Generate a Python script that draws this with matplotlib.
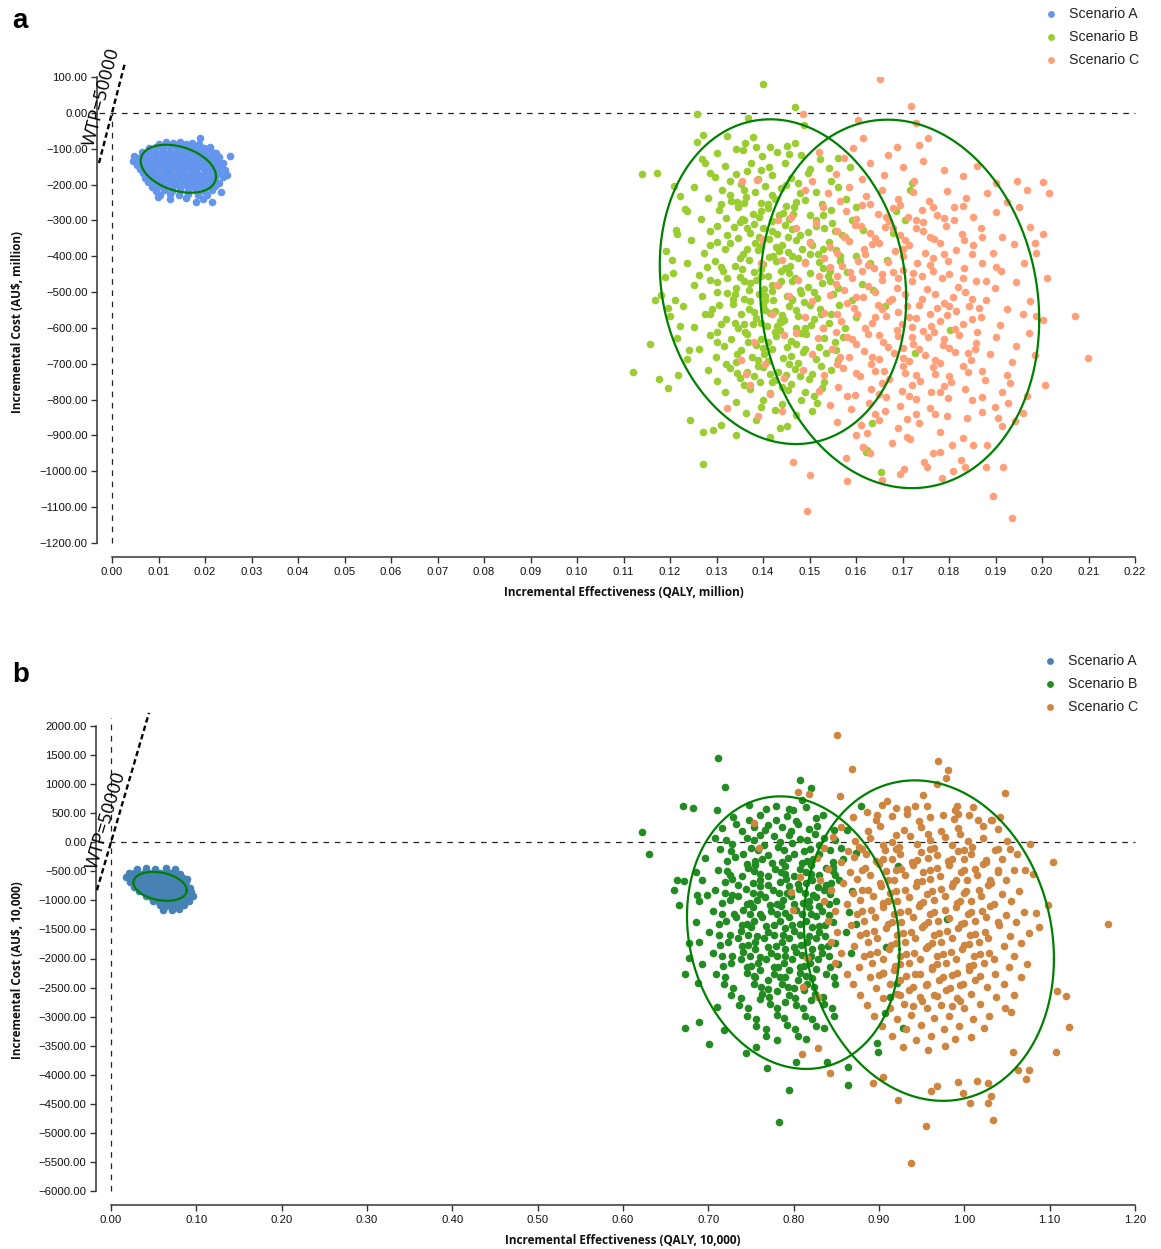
import numpy as np
import matplotlib
matplotlib.use("Agg")
import matplotlib.pyplot as plt

# ---------------- data: panel a (QALY million, AU$ million) ----------------
scenarios = ["Scenario A", "Scenario B", "Scenario C"]
a_colors = ["#6495ED", "#9ACD32", "#FFA07A"]
b_colors = ["#4682B4", "#228B22", "#CD853F"]

a_A = [(0.0189,-70),
 (0.0102,-86),(0.0117,-82),(0.0131,-85),(0.0146,-81),(0.0159,-86),(0.0173,-83),(0.0187,-88),
 (0.0079,-97),(0.0094,-94),(0.0109,-98),(0.0124,-95),(0.0139,-97),(0.0153,-94),(0.0168,-98),(0.0183,-95),(0.0198,-99),(0.0211,-96),
 (0.0065,-109),(0.0080,-106),(0.0095,-110),(0.0110,-107),(0.0125,-109),(0.0140,-106),(0.0155,-110),(0.0170,-107),(0.0185,-109),(0.0200,-106),(0.0215,-110),(0.0224,-113),
 (0.0254,-119),(0.0048,-121),(0.0058,-127),(0.0072,-119),(0.0087,-122),(0.0102,-119),(0.0117,-122),(0.0132,-119),(0.0147,-122),(0.0162,-119),(0.0177,-122),(0.0192,-119),(0.0207,-122),(0.0220,-119),(0.0231,-124),
 (0.0046,-133),(0.0064,-131),(0.0079,-134),(0.0094,-131),(0.0109,-134),(0.0124,-131),(0.0139,-134),(0.0154,-131),(0.0169,-134),(0.0184,-131),(0.0199,-134),(0.0214,-131),(0.0228,-134),(0.0238,-139),
 (0.0054,-145),(0.0069,-143),(0.0085,-146),(0.0100,-143),(0.0115,-146),(0.0130,-143),(0.0145,-146),(0.0160,-143),(0.0175,-146),(0.0190,-143),(0.0205,-146),(0.0220,-143),(0.0235,-147),
 (0.0060,-157),(0.0075,-155),(0.0090,-158),(0.0105,-155),(0.0120,-158),(0.0135,-155),(0.0150,-158),(0.0165,-155),(0.0180,-158),(0.0195,-155),(0.0210,-158),(0.0225,-155),(0.0242,-159),
 (0.0066,-169),(0.0081,-167),(0.0096,-170),(0.0111,-167),(0.0126,-170),(0.0141,-167),(0.0156,-170),(0.0171,-167),(0.0186,-170),(0.0201,-167),(0.0216,-170),(0.0231,-167),(0.0247,-172),
 (0.0071,-182),(0.0086,-179),(0.0101,-182),(0.0116,-179),(0.0131,-182),(0.0146,-179),(0.0161,-182),(0.0176,-179),(0.0191,-182),(0.0206,-179),(0.0221,-182),(0.0238,-180),
 (0.0078,-194),(0.0093,-191),(0.0108,-194),(0.0123,-191),(0.0138,-194),(0.0153,-191),(0.0168,-194),(0.0183,-191),(0.0198,-194),(0.0213,-191),(0.0230,-195),
 (0.0086,-206),(0.0101,-203),(0.0116,-206),(0.0131,-203),(0.0146,-206),(0.0161,-203),(0.0176,-206),(0.0191,-203),(0.0206,-206),(0.0222,-204),
 (0.0095,-218),(0.0112,-215),(0.0129,-218),(0.0146,-216),(0.0163,-219),(0.0180,-215),(0.0197,-218),(0.0214,-216),(0.0234,-221),
 (0.0104,-229),(0.0124,-227),(0.0144,-230),(0.0164,-227),(0.0184,-230),(0.0204,-228),
 (0.0099,-236),(0.0125,-241),(0.0160,-238),(0.0195,-240),(0.0180,-248),(0.0214,-250)]

a_B = [(0.1401,81),(0.1469,16),(0.1257,-3),(0.1368,-15),(0.1488,-33),(0.1139,-170),(0.1173,-168),(0.1120,-724),
 (0.1157,-645),(0.1168,-522),(0.1177,-743),(0.1196,-768),(0.1218,-731),(0.1243,-856),(0.1270,-980),(0.1272,-889),
 (0.1293,-884),(0.1309,-870),(0.1343,-898),(0.1415,-903),(0.1437,-880),(0.1451,-875),(0.1623,-940),(0.1654,-1001),
 (0.1634,-866),(0.1621,-945),(0.1209,-204),(0.1222,-233),(0.1257,-80),(0.1272,-61),(0.1323,-64),(0.1379,-66),
 (0.1343,-101),(0.1361,-85),(0.1415,-94),(0.1451,-92),(0.1469,-83),(0.1275,-140),(0.1286,-168),(0.1562,-126),
 (0.1587,-150),(0.1541,-154),(0.1720,-196),(0.1716,-215),(0.1705,-299),(0.1687,-275),(0.1727,-670),(0.1802,-605),
 (0.1662,-540),(0.1636,-494),(0.1666,-410),(0.1680,-336),(0.1204,-410),(0.1189,-457),(0.1211,-522),(0.1222,-596),
 (0.1240,-661),(0.1216,-338),(0.1237,-275),(0.1196,-545),
 (0.1302,-112),(0.1356,-104),(0.1398,-121),(0.1431,-108),(0.1482,-118),(0.1523,-130),(0.1319,-148),(0.1374,-139),
 (0.1412,-152),(0.1447,-141),(0.1502,-156),(0.1268,-128),(0.1385,-96),(0.1455,-114),
 (0.1296,-178),(0.1341,-170),(0.1389,-185),(0.1420,-172),(0.1461,-181),(0.1497,-168),(0.1546,-189),(0.1252,-206),
 (0.1311,-214),(0.1353,-199),(0.1382,-222),(0.1404,-203),(0.1438,-211),(0.1476,-196),(0.1513,-220),(0.1561,-207),
 (0.1330,-228),(0.1365,-163),
 (0.1281,-238),(0.1331,-246),(0.1363,-236),(0.1396,-251),(0.1426,-240),(0.1449,-259),(0.1491,-244),(0.1527,-255),
 (0.1579,-240),(0.1232,-268),(0.1306,-272),(0.1346,-262),(0.1379,-281),(0.1411,-266),(0.1443,-279),(0.1466,-263),
 (0.1501,-285),(0.1546,-270),(0.1601,-262),(0.1267,-296),(0.1321,-292),(0.1359,-300),(0.1392,-290),(0.1420,-301),
 (0.1456,-295),(0.1514,-299),(0.1360,-252),(0.1434,-286),
 (0.1549,-308),(0.1591,-300),(0.1213,-326),(0.1286,-330),(0.1337,-318),(0.1371,-336),(0.1401,-322),(0.1431,-339),
 (0.1463,-325),(0.1496,-333),(0.1531,-320),(0.1569,-342),(0.1616,-328),(0.1246,-356),(0.1301,-361),(0.1346,-350),
 (0.1383,-364),(0.1413,-352),(0.1441,-368),(0.1471,-355),(0.1506,-370),(0.1541,-359),(0.1576,-347),(0.1191,-386),
 (0.1273,-391),(0.1319,-380),(0.1356,-395),(0.1389,-384),(0.1421,-399),(0.1453,-388),(0.1483,-379),(0.1519,-393),
 (0.1556,-382),(0.1601,-398),(0.1366,-322),(0.1392,-346),(0.1427,-374),(0.1462,-398),(0.1329,-364),
 (0.1236,-418),(0.1296,-412),(0.1339,-426),(0.1369,-410),(0.1399,-421),(0.1429,-413),(0.1459,-428),(0.1491,-417),
 (0.1529,-432),(0.1566,-414),(0.1631,-420),(0.1206,-446),(0.1263,-452),(0.1313,-441),(0.1351,-458),(0.1381,-444),
 (0.1411,-455),(0.1439,-440),(0.1469,-462),(0.1501,-448),(0.1539,-456),(0.1581,-443),(0.1251,-480),(0.1301,-472),
 (0.1341,-488),(0.1373,-476),(0.1403,-491),(0.1433,-479),(0.1463,-470),(0.1496,-485),(0.1526,-474),(0.1561,-490),
 (0.1613,-478),(0.1355,-436),(0.1386,-466),(0.1419,-496),(0.1448,-432),(0.1322,-460),
 (0.1181,-508),(0.1269,-512),(0.1323,-503),(0.1359,-518),(0.1391,-506),(0.1421,-521),(0.1451,-510),(0.1481,-502),
 (0.1516,-517),(0.1551,-505),(0.1591,-522),(0.1229,-538),(0.1291,-546),(0.1336,-532),(0.1369,-548),(0.1399,-536),
 (0.1426,-552),(0.1456,-540),(0.1489,-529),(0.1523,-547),(0.1563,-535),(0.1201,-568),(0.1276,-562),(0.1321,-575),
 (0.1353,-560),(0.1386,-571),(0.1416,-558),(0.1446,-579),(0.1476,-566),(0.1509,-574),(0.1546,-561),(0.1599,-570),
 (0.1251,-598),(0.1309,-590),(0.1346,-601),(0.1379,-588),(0.1409,-596),(0.1439,-584),(0.1471,-599),(0.1503,-591),
 (0.1541,-586),(0.1576,-600),(0.1372,-526),(0.1405,-551),(0.1436,-582),(0.1463,-523),(0.1339,-585),
 (0.1216,-628),(0.1286,-620),(0.1331,-632),(0.1366,-618),(0.1396,-631),(0.1429,-622),(0.1461,-636),(0.1493,-617),
 (0.1531,-629),(0.1571,-624),(0.1263,-658),(0.1316,-650),(0.1353,-662),(0.1386,-648),(0.1419,-660),(0.1451,-652),
 (0.1486,-666),(0.1521,-654),(0.1556,-661),(0.1236,-688),(0.1299,-682),(0.1341,-694),(0.1376,-680),(0.1411,-692),
 (0.1443,-684),(0.1476,-697),(0.1513,-686),(0.1561,-690),(0.1368,-640),(0.1402,-672),(0.1437,-606),
 (0.1281,-718),(0.1329,-712),(0.1366,-724),(0.1401,-710),(0.1433,-722),(0.1469,-714),(0.1506,-728),(0.1546,-716),
 (0.1301,-748),(0.1351,-740),(0.1393,-752),(0.1426,-744),(0.1461,-756),(0.1499,-742),(0.1531,-750),(0.1319,-778),
 (0.1373,-770),(0.1416,-782),(0.1453,-772),(0.1491,-780),(0.1526,-768),(0.1341,-808),(0.1399,-800),(0.1441,-812),
 (0.1481,-802),(0.1516,-810),(0.1363,-838),(0.1426,-830),(0.1471,-842),(0.1506,-832),(0.1386,-858),
 (0.1345,-250),(0.1410,-255),(0.1472,-248),(0.1380,-310),(0.1447,-312),(0.1515,-315),(0.1322,-340),(0.1453,-345),
 (0.1395,-372),(0.1350,-405),(0.1412,-402),(0.1475,-405),(0.1438,-468),(0.1370,-495),(0.1510,-500),(0.1335,-520),
 (0.1405,-522),(0.1470,-550),(0.1395,-585),(0.1430,-595),(0.1362,-610),(0.1482,-615),(0.1410,-640),(0.1345,-672),
 (0.1460,-678),(0.1390,-705),(0.1450,-730),(0.1380,-735),(0.1310,-430),(0.1545,-440),(0.1285,-560),(0.1530,-600),
 (0.1355,-295),(0.1500,-360),(0.1395,-455),(0.1462,-520),(0.1530,-380),(0.1300,-500),(0.1420,-750),(0.1490,-660),
 (0.1330,-190),(0.1395,-160),(0.1450,-200),(0.1360,-215),(0.1420,-230),(0.1480,-225),(0.1310,-255),(0.1395,-275),
 (0.1465,-282),(0.1530,-285),(0.1300,-315),(0.1350,-305),(0.1420,-330),(0.1480,-340),(0.1555,-330),(0.1285,-370),
 (0.1365,-380),(0.1435,-385),(0.1500,-395),(0.1565,-400),(0.1280,-430),(0.1395,-435),(0.1455,-448),(0.1520,-415),
 (0.1285,-465),(0.1360,-470),(0.1420,-480),(0.1480,-495),(0.1545,-470),(0.1340,-505),(0.1405,-510),(0.1500,-535),
 (0.1305,-535),(0.1380,-555),(0.1440,-565),(0.1525,-560),(0.1300,-610),(0.1360,-590),(0.1425,-610),(0.1490,-600),
 (0.1555,-640),(0.1300,-640),(0.1400,-655),(0.1470,-645),(0.1535,-670),(0.1320,-700),(0.1390,-690),(0.1455,-700),
 (0.1525,-705),(0.1345,-725),(0.1415,-728),(0.1480,-735),(0.1360,-760),(0.1440,-765),(0.1510,-790),(0.1395,-820)]

a_C = [(0.1652,95),(0.1718,20),(0.1486,-3),(0.1604,-20),(0.1616,-71),(0.1594,-98),(0.1729,-29),(0.1754,-69),
 (0.1735,-89),(0.1946,-191),(0.1967,-215),(0.2003,-193),(0.2014,-224),(0.1985,-364),(0.2003,-338),(0.2007,-759),
 (0.1987,-568),(0.2003,-577),(0.1971,-615),(0.2071,-567),(0.2099,-684),(0.1960,-838),(0.1943,-861),(0.1895,-1070),
 (0.1936,-1131),(0.1917,-987),(0.1879,-987),(0.1494,-1110),(0.1501,-1010),(0.1464,-975),(0.1580,-1026),(0.1616,-933),
 (0.1578,-963),(0.1655,-1024),(0.1322,-824),(0.1363,-728),(0.1390,-847),(0.1440,-833),(0.1784,-1019),(0.1809,-998),
 (0.1834,-989),(0.1753,-987),(0.1746,-973),(0.1766,-950),(0.1781,-945),(0.1825,-968),(0.1806,-927),(0.1831,-908),
 (0.1852,-927),(0.1695,-1007),(0.1704,-993),(0.1717,-911),(0.1677,-920),(0.1630,-948),(0.1616,-931),(0.1624,-894),
 (0.1913,-875),(0.1881,-927),(0.1838,-852),(0.1870,-834),(0.1899,-820),(0.1927,-810),(0.1931,-755),
 (0.1395,-420),(0.1420,-560),(0.1380,-640),(0.1405,-700),(0.1430,-480),(0.1372,-760),(0.1415,-785),(0.1445,-740),
 (0.1352,-690),(0.1398,-352),(0.1432,-300),(0.1445,-620),(0.1354,-191),(0.1387,-187),
 (0.1520,-110),(0.1575,-125),(0.1630,-140),(0.1668,-118),(0.1702,-150),(0.1745,-135),(0.1790,-160),(0.1830,-175),
 (0.1558,-170),(0.1612,-185),(0.1660,-172),(0.1725,-190),(0.1860,-148),(0.1900,-195),(0.1505,-190),(0.1688,-95),
 (0.1490,-215),(0.1540,-225),(0.1585,-208),(0.1622,-232),(0.1655,-215),(0.1690,-240),(0.1722,-222),(0.1758,-246),
 (0.1795,-218),(0.1836,-238),(0.1882,-225),(0.1925,-250),(0.1530,-262),(0.1578,-275),(0.1612,-258),(0.1648,-281),
 (0.1680,-265),(0.1712,-290),(0.1741,-270),(0.1775,-284),(0.1810,-262),(0.1851,-291),(0.1900,-276),(0.1950,-262),
 (0.1460,-290),
 (0.1470,-322),(0.1515,-308),(0.1560,-330),(0.1598,-312),(0.1630,-335),(0.1662,-318),(0.1695,-340),(0.1728,-322),
 (0.1760,-345),(0.1793,-316),(0.1828,-338),(0.1868,-322),(0.1915,-346),(0.1975,-318),(0.1500,-362),(0.1545,-375),
 (0.1585,-358),(0.1618,-380),(0.1650,-364),(0.1683,-386),(0.1715,-368),(0.1748,-390),(0.1781,-362),(0.1815,-384),
 (0.1852,-370),(0.1895,-392),(0.1940,-366),(0.1988,-390),(0.1672,-302),(0.1745,-305),
 (0.1440,-410),(0.1490,-420),(0.1532,-405),(0.1570,-428),(0.1605,-412),(0.1638,-432),(0.1668,-415),(0.1700,-438),
 (0.1732,-418),(0.1765,-440),(0.1798,-412),(0.1832,-434),(0.1870,-418),(0.1912,-442),(0.1962,-420),(0.1475,-465),
 (0.1520,-455),(0.1558,-478),(0.1592,-460),(0.1625,-482),(0.1655,-466),(0.1688,-488),(0.1720,-470),(0.1752,-492),
 (0.1785,-462),(0.1820,-485),(0.1858,-468),(0.1898,-490),(0.1945,-472),(0.2010,-460),(0.1612,-440),(0.1742,-455),
 (0.1680,-445),
 (0.1455,-512),(0.1505,-525),(0.1545,-508),(0.1580,-530),(0.1615,-515),(0.1648,-535),(0.1678,-518),(0.1710,-540),
 (0.1742,-520),(0.1775,-545),(0.1808,-515),(0.1842,-538),(0.1880,-522),(0.1925,-546),(0.1975,-525),(0.1490,-570),
 (0.1532,-558),(0.1568,-580),(0.1602,-562),(0.1635,-585),(0.1665,-568),(0.1698,-590),(0.1730,-572),(0.1762,-595),
 (0.1795,-565),(0.1830,-588),(0.1868,-570),(0.1910,-592),(0.1960,-560),(0.1655,-548),(0.1720,-598),(0.1790,-530),
 (0.1470,-615),(0.1518,-628),(0.1558,-610),(0.1592,-632),(0.1625,-618),(0.1658,-640),(0.1690,-622),(0.1722,-645),
 (0.1755,-625),(0.1788,-648),(0.1822,-620),(0.1858,-642),(0.1900,-626),(0.1945,-650),(0.1505,-672),(0.1548,-660),
 (0.1585,-682),(0.1618,-665),(0.1650,-688),(0.1682,-670),(0.1715,-692),(0.1748,-675),(0.1780,-698),(0.1812,-668),
 (0.1848,-690),(0.1888,-672),(0.1935,-695),(0.1985,-675),(0.1700,-655),(0.1768,-610),
 (0.1485,-718),(0.1532,-730),(0.1572,-712),(0.1608,-735),(0.1640,-720),(0.1672,-742),(0.1705,-725),(0.1738,-748),
 (0.1770,-728),(0.1805,-750),(0.1840,-722),(0.1878,-745),(0.1925,-730),(0.1520,-775),(0.1562,-765),(0.1598,-788),
 (0.1632,-770),(0.1665,-792),(0.1698,-775),(0.1730,-798),(0.1762,-778),(0.1798,-795),(0.1835,-770),(0.1872,-792),
 (0.1915,-778),(0.1968,-790),
 (0.1545,-815),(0.1590,-825),(0.1628,-810),(0.1662,-832),(0.1695,-818),(0.1728,-840),(0.1760,-822),(0.1795,-845),
 (0.1560,-862),(0.1610,-870),(0.1650,-858),(0.1690,-880),(0.1735,-865),(0.1780,-890),(0.1905,-850),(0.1600,-900),
 (0.1710,-905),
 (0.1600,-295),(0.1665,-290),(0.1730,-300),(0.1790,-292),(0.1575,-345),(0.1640,-350),(0.1705,-355),(0.1768,-352),
 (0.1832,-355),(0.1620,-395),(0.1700,-400),(0.1765,-405),(0.1588,-445),(0.1655,-450),(0.1722,-448),(0.1800,-450),
 (0.1575,-495),(0.1640,-500),(0.1705,-505),(0.1770,-505),(0.1835,-500),(0.1595,-545),(0.1690,-555),(0.1760,-560),
 (0.1815,-552),(0.1620,-600),(0.1688,-605),(0.1745,-608),(0.1812,-604),(0.1600,-645),(0.1668,-652),(0.1735,-660),
 (0.1800,-655),(0.1632,-700),(0.1700,-705),(0.1765,-710),(0.1830,-705),(0.1655,-755),(0.1720,-760),(0.1790,-762),
 (0.1560,-700),(0.1530,-600),(0.1860,-610),(0.1850,-520),(0.1545,-430),(0.1880,-470),
 (0.1565,-245),(0.1630,-255),(0.1695,-258),(0.1765,-262),(0.1830,-260),(0.1610,-315),(0.1680,-322),(0.1745,-330),
 (0.1810,-300),(0.1870,-345),(0.1560,-390),(0.1635,-365),(0.1700,-380),(0.1790,-395),(0.1850,-395),(0.1560,-455),
 (0.1625,-425),(0.1690,-460),(0.1760,-425),(0.1830,-460),(0.1900,-430),(0.1600,-515),(0.1670,-525),(0.1735,-535),
 (0.1800,-540),(0.1865,-545),(0.1560,-560),(0.1640,-570),(0.1715,-570),(0.1780,-580),(0.1850,-575),(0.1580,-625),
 (0.1650,-620),(0.1720,-625),(0.1790,-630),(0.1855,-660),(0.1565,-680),(0.1635,-680),(0.1700,-685),(0.1770,-690),
 (0.1840,-670),(0.1600,-725),(0.1660,-720),(0.1730,-730),(0.1800,-735),(0.1870,-720),(0.1580,-790),(0.1650,-785),
 (0.1715,-790),(0.1780,-780),(0.1850,-800),(0.1640,-840),(0.1710,-855),(0.1770,-840)]

# confidence ellipses: centre x, centre y, half-width, half-height, phase (deg)
a_ellipses = [(0.01427, -156, 0.0081, 67, 109),
              (0.1443, -471, 0.0265, 453, 96),
              (0.1694, -533, 0.0300, 514, 95)]

# ---------------- data: panel b (QALY 10,000, AU$ 10,000) ----------------
b_A = [(0.031,-462),(0.041,-448),(0.052,-458),(0.064,-446),(0.075,-460),
 (0.021,-535),(0.027,-522),(0.033,-538),(0.039,-526),(0.045,-532),(0.051,-520),(0.057,-536),(0.063,-524),(0.069,-534),(0.075,-522),(0.081,-538),
 (0.018,-596),(0.024,-612),(0.030,-602),(0.036,-616),(0.042,-604),(0.048,-614),(0.054,-600),(0.060,-612),(0.066,-604),(0.072,-618),(0.078,-606),(0.084,-614),(0.089,-628),
 (0.022,-690),(0.028,-682),(0.034,-696),(0.040,-684),(0.046,-698),(0.052,-686),(0.058,-694),(0.064,-682),(0.070,-696),(0.076,-686),(0.082,-698),(0.088,-688),
 (0.027,-768),(0.033,-778),(0.039,-764),(0.045,-776),(0.051,-766),(0.057,-780),(0.063,-768),(0.069,-776),(0.075,-764),(0.081,-778),(0.087,-770),(0.093,-782),
 (0.033,-846),(0.039,-858),(0.045,-848),(0.051,-860),(0.057,-844),(0.063,-856),(0.069,-848),(0.075,-860),(0.081,-846),(0.087,-858),(0.094,-850),
 (0.041,-928),(0.047,-940),(0.053,-926),(0.059,-938),(0.065,-930),(0.071,-942),(0.077,-926),(0.083,-938),(0.089,-930),(0.096,-925),
 (0.049,-1006),(0.055,-1018),(0.061,-1004),(0.067,-1016),(0.073,-1008),(0.079,-1020),(0.085,-1006),(0.091,-1014),
 (0.057,-1086),(0.064,-1098),(0.071,-1084),(0.078,-1096),(0.085,-1088),
 (0.061,-1160),(0.071,-1172),(0.080,-1150)]

b_B = [(0.7114,1455),(0.7200,951),(0.6708,618),(0.6817,596),(0.7102,550),(0.6223,172),(0.6301,-200),(0.8075,1065),
 (0.8200,933),(0.8102,722),(0.7946,567),(0.6630,-641),(0.6598,-813),(0.6661,-1082),(0.6719,-664),(0.6864,-911),
 (0.6981,-899),(0.6852,-510),(0.6770,-1730),(0.6778,-1987),(0.6727,-2274),(0.6876,-2428),(0.6727,-3201),(0.6895,-3098),
 (0.7012,-3476),(0.7184,-3230),(0.7106,-2829),(0.7438,-3620),(0.7555,-3528),(0.7684,-3877),(0.7946,-4261),(0.7829,-4816),
 (0.8028,-3774),(0.8387,-3774),(0.8641,-3860),(0.8641,-4175),(0.8993,-3602),(0.8973,-3448),(0.9278,-3201),(0.9219,-407),
 (0.8786,618),(0.8727,-183),(0.8622,206),(0.8465,-424),(0.9802,-1317),(0.9208,-2428),(0.9130,-2657),(0.9071,-2944),
 (0.9052,-2256),(0.9083,-1798),
 (0.748,640),(0.768,578),(0.779,632),(0.799,548),(0.815,604),
 (0.729,437),(0.748,378),(0.760,461),(0.779,388),(0.792,452),(0.803,366),(0.826,418),(0.834,475),
 (0.716,252),(0.739,198),(0.753,268),(0.766,211),(0.786,262),(0.797,189),(0.818,231),(0.827,282),(0.847,208),
 (0.708,76),(0.721,34),(0.745,65),(0.753,44),(0.777,101),(0.784,9),(0.807,56),(0.816,31),(0.835,78),(0.848,42),
 (0.714,-118),(0.727,-148),(0.750,-104),(0.758,-137),(0.782,-80),(0.789,-134),(0.812,-156),(0.819,-114),(0.842,-133),(0.855,-102),
 (0.696,-272),(0.722,-328),(0.731,-262),(0.755,-320),(0.763,-282),(0.786,-339),(0.793,-270),(0.816,-324),(0.823,-286),(0.846,-341),(0.858,-291),
 (0.711,-474),(0.722,-497),(0.746,-446),(0.754,-498),(0.778,-452),(0.785,-511),(0.808,-460),(0.815,-518),(0.838,-451),(0.846,-500),
 (0.692,-646),(0.719,-689),(0.728,-632),(0.752,-700),(0.760,-641),(0.784,-685),(0.791,-630),(0.814,-698),(0.821,-652),(0.844,-709),(0.853,-642),
 (0.708,-822),(0.719,-880),(0.744,-812),(0.752,-867),(0.776,-826),(0.783,-879),(0.806,-810),(0.813,-870),(0.836,-823),(0.843,-890),(0.868,-832),
 (0.689,-1018),(0.716,-1046),(0.725,-990),(0.749,-1049),(0.757,-1002),(0.781,-1060),(0.788,-992),(0.811,-1044),(0.818,-1007),(0.841,-1055),(0.850,-1016),
 (0.705,-1182),(0.716,-1240),(0.741,-1170),(0.749,-1229),(0.773,-1181),(0.780,-1242),(0.803,-1172),(0.810,-1230),(0.833,-1180),(0.841,-1249),(0.865,-1197),
 (0.685,-1378),(0.712,-1408),(0.721,-1351),(0.745,-1408),(0.753,-1362),(0.777,-1419),(0.784,-1350),(0.807,-1410),(0.814,-1362),(0.837,-1418),(0.846,-1370),(0.873,-1398),
 (0.701,-1542),(0.713,-1599),(0.738,-1531),(0.746,-1590),(0.770,-1540),(0.777,-1600),(0.800,-1532),(0.807,-1588),(0.830,-1541),(0.837,-1609),(0.861,-1551),
 (0.689,-1724),(0.714,-1766),(0.723,-1710),(0.747,-1769),(0.755,-1721),(0.779,-1780),(0.786,-1712),(0.809,-1769),(0.816,-1722),(0.840,-1778),(0.849,-1731),
 (0.705,-1901),(0.716,-1959),(0.741,-1891),(0.749,-1949),(0.773,-1900),(0.780,-1959),(0.803,-1892),(0.810,-1948),(0.833,-1902),(0.841,-1958),(0.867,-1912),
 (0.692,-2093),(0.717,-2127),(0.726,-2071),(0.750,-2129),(0.758,-2081),(0.782,-2138),(0.789,-2072),(0.812,-2128),(0.819,-2082),(0.843,-2149),(0.852,-2092),
 (0.709,-2262),(0.720,-2319),(0.745,-2251),(0.753,-2309),(0.777,-2262),(0.784,-2319),(0.807,-2252),(0.814,-2308),(0.838,-2262),(0.847,-2319),
 (0.718,-2441),(0.729,-2499),(0.754,-2431),(0.762,-2489),(0.786,-2441),(0.793,-2498),(0.816,-2432),(0.824,-2488),(0.848,-2442),
 (0.727,-2621),(0.738,-2679),(0.763,-2611),(0.771,-2668),(0.794,-2622),(0.801,-2678),(0.825,-2612),(0.834,-2668),
 (0.736,-2801),(0.747,-2859),(0.772,-2791),(0.780,-2848),(0.803,-2802),(0.811,-2858),(0.836,-2791),(0.845,-2848),
 (0.745,-2981),(0.756,-3039),(0.781,-2971),(0.789,-3028),(0.813,-2982),(0.822,-3038),(0.847,-2992),
 (0.756,-3161),(0.767,-3219),(0.792,-3151),(0.801,-3208),(0.826,-3162),(0.836,-3194),
 (0.768,-3341),(0.780,-3399),(0.805,-3331),(0.815,-3388),
 (0.741,-200),(0.770,-220),(0.800,-210),(0.830,-205),(0.755,-390),(0.790,-400),(0.820,-395),(0.740,-580),
 (0.770,-575),(0.800,-585),(0.830,-570),(0.760,-760),(0.795,-750),(0.828,-765),(0.735,-930),(0.766,-940),
 (0.797,-925),(0.826,-935),(0.752,-1110),(0.785,-1100),(0.818,-1115),(0.732,-1280),(0.763,-1290),(0.795,-1285),
 (0.826,-1275),(0.750,-1460),(0.790,-1470),(0.822,-1465),(0.735,-1640),(0.765,-1650),(0.795,-1655),(0.826,-1640),
 (0.755,-1830),(0.790,-1840),(0.822,-1835),(0.738,-2000),(0.768,-2010),(0.798,-2005),(0.828,-2000),(0.760,-2190),
 (0.795,-2195),(0.826,-2185),(0.770,-2370),(0.805,-2375),(0.780,-2560),(0.812,-2550),(0.790,-2740),
 (0.733,320),(0.770,300),(0.805,310),(0.760,130),(0.795,120),(0.825,150),(0.728,-30),(0.765,-40),
 (0.798,-20),(0.830,-40),(0.745,-380),(0.775,-350),(0.810,-365),(0.725,-555),(0.760,-540),(0.790,-545),
 (0.820,-550),(0.848,-560),(0.735,-740),(0.770,-730),(0.805,-720),(0.838,-740),(0.728,-900),(0.760,-895),
 (0.792,-880),(0.823,-900),(0.745,-1060),(0.772,-1080),(0.800,-1070),(0.830,-1090),(0.730,-1240),(0.760,-1230),
 (0.790,-1220),(0.820,-1230),(0.740,-1420),(0.768,-1440),(0.798,-1430),(0.830,-1440),(0.725,-1600),(0.757,-1610),
 (0.788,-1595),(0.818,-1610),(0.740,-1790),(0.770,-1800),(0.800,-1795),(0.832,-1800),(0.728,-1960),(0.760,-1970),
 (0.790,-1965),(0.820,-1960),(0.745,-2150),(0.777,-2145),(0.808,-2140),(0.755,-2320),(0.790,-2320),(0.822,-2330),
 (0.770,-2520),(0.800,-2500),(0.760,-2700),(0.820,-2720)]

b_C = [(0.8504,1838),(0.8680,1266),(0.9696,1392),(0.9805,1248),(0.9782,1105),(0.9684,1008),(1.0481,853),(0.8055,865),
 (0.8184,836),(0.8544,790),(0.9512,807),(0.9098,704),(1.0770,-23),(1.1043,-338),(1.1680,-1409),(1.1231,-3184),
 (1.1192,-2640),(1.1090,-2554),(1.1071,-3602),(1.0762,-3917),(1.0723,-4078),(1.0340,-4776),(1.0309,-4364),(1.0067,-4490),
 (0.9551,-4880),(0.9376,-5521),(0.9219,-4433),(0.8934,-4135),(0.9052,-4032),(0.9989,-4307),(0.9930,-4118),(0.9676,-4192),
 (0.9610,-4272),(0.8427,-3963),(0.8094,-3648),(0.8290,-3545),(1.0575,-3614),(1.0544,-2915),(1.0634,-3917),(1.0274,-4147),
 (1.0282,-4478),(1.0145,-4106),(1.0985,-1082),(1.0840,-1214),(1.0880,-1455),(1.0809,-538),(1.0711,-470),(1.0614,-195),
 (1.0419,435),(1.0321,378),(1.0165,389),(0.9911,618),(0.9930,492),(0.9755,475),(0.9422,624),(0.9325,492),
 (0.9200,596),(0.8856,521),(0.8973,464),(0.7540,338),(0.7590,-92),(0.8075,-596),(0.7969,-853),(0.7989,-1157),
 (0.8153,-1999),(0.8114,-2486),(0.8290,-2657),
 (0.903,646),(0.933,570),(0.956,622),(0.989,553),(1.010,606),
 (0.870,437),(0.896,388),(0.915,455),(0.947,372),(0.960,440),(0.988,396),(1.006,462),(1.031,378),
 (0.856,257),(0.887,198),(0.901,275),(0.929,215),(0.949,262),(0.973,188),(0.992,247),(1.022,273),(1.039,225),
 (0.846,87),(0.872,23),(0.889,79),(0.915,11),(0.936,101),(0.960,35),(0.977,92),(1.004,18),(1.022,77),(1.050,28),
 (0.836,-98),(0.864,-157),(0.877,-89),(0.907,-131),(0.923,-81),(0.949,-167),(0.965,-105),(0.992,-152),(1.009,-88),(1.036,-126),(1.053,-111),
 (0.827,-273),(0.855,-332),(0.871,-261),(0.896,-317),(0.915,-285),(0.939,-343),(0.957,-268),(0.981,-325),(1.000,-281),(1.025,-339),(1.044,-289),
 (0.840,-455),(0.866,-512),(0.884,-448),(0.908,-501),(0.926,-461),(0.952,-519),(0.968,-451),(0.996,-504),(1.012,-463),(1.039,-515),(1.058,-475),
 (0.831,-641),(0.858,-695),(0.874,-633),(0.901,-702),(0.917,-645),(0.944,-689),(0.960,-631),(0.987,-697),(1.003,-653),(1.031,-709),(1.049,-648),
 (0.844,-818),(0.870,-879),(0.887,-813),(0.913,-865),(0.930,-828),(0.956,-883),(0.973,-811),(1.000,-873),(1.017,-823),(1.044,-889),(1.064,-838),
 (0.835,-1003),(0.862,-1062),(0.878,-991),(0.905,-1049),(0.921,-1008),(0.948,-1063),(0.964,-993),(0.991,-1045),(1.008,-1005),(1.035,-1057),(1.055,-1018),
 (0.848,-1178),(0.874,-1243),(0.891,-1171),(0.917,-1229),(0.934,-1183),(0.960,-1242),(0.977,-1173),(1.004,-1233),(1.021,-1181),(1.049,-1249),(1.070,-1198),
 (0.840,-1363),(0.867,-1422),(0.883,-1353),(0.910,-1409),(0.926,-1365),(0.953,-1425),(0.969,-1351),(0.996,-1407),(1.013,-1363),(1.041,-1421),(1.060,-1373),
 (0.851,-1541),(0.878,-1601),(0.894,-1531),(0.921,-1592),(0.937,-1541),(0.964,-1602),(0.980,-1533),(1.007,-1589),(1.024,-1543),(1.053,-1609),(1.076,-1553),
 (0.844,-1713),(0.871,-1779),(0.887,-1711),(0.914,-1771),(0.930,-1721),(0.957,-1782),(0.973,-1713),(1.000,-1771),(1.017,-1723),(1.046,-1779),(1.066,-1733),
 (0.855,-1899),(0.882,-1959),(0.898,-1891),(0.925,-1951),(0.941,-1899),(0.968,-1961),(0.984,-1891),(1.011,-1949),(1.029,-1901),(1.058,-1959),
 (0.849,-2081),(0.876,-2141),(0.892,-2071),(0.919,-2131),(0.935,-2081),(0.962,-2140),(0.978,-2071),(1.005,-2129),(1.023,-2083),(1.052,-2149),(1.074,-2093),
 (0.862,-2261),(0.889,-2321),(0.905,-2249),(0.932,-2309),(0.948,-2261),(0.975,-2320),(0.991,-2251),(1.018,-2309),(1.036,-2261),(1.066,-2317),
 (0.870,-2440),(0.897,-2500),(0.913,-2431),(0.940,-2491),(0.956,-2441),(0.983,-2499),(0.999,-2431),(1.027,-2489),(1.046,-2443),
 (0.878,-2620),(0.905,-2680),(0.921,-2611),(0.948,-2669),(0.964,-2621),(0.991,-2679),(1.008,-2611),(1.037,-2669),(1.058,-2633),
 (0.886,-2801),(0.913,-2860),(0.929,-2790),(0.956,-2849),(0.973,-2801),(1.000,-2859),(1.018,-2791),(1.048,-2849),
 (0.894,-2981),(0.921,-3040),(0.938,-2971),(0.965,-3029),(0.982,-2981),(1.010,-3039),(1.029,-2991),
 (0.904,-3161),(0.932,-3220),(0.949,-3150),(0.976,-3209),(0.994,-3161),(1.023,-3197),
 (0.915,-3341),(0.943,-3400),(0.961,-3331),(0.989,-3389),(1.008,-3343),
 (0.928,-3521),(0.958,-3579),(0.977,-3511),
 (0.905,-40),(0.945,-30),(0.985,-50),(0.885,-210),(0.925,-200),(0.968,-215),(1.008,-205),(0.900,-380),
 (0.940,-390),(0.982,-385),(1.022,-375),(0.890,-570),(0.930,-565),(0.972,-575),(1.015,-560),(0.902,-750),
 (0.943,-745),(0.985,-755),(1.028,-740),(0.893,-925),(0.935,-935),(0.977,-930),(1.020,-925),(0.905,-1110),
 (0.947,-1105),(0.990,-1115),(1.030,-1100),(0.895,-1290),(0.940,-1285),(0.982,-1295),(1.025,-1280),(0.908,-1470),
 (0.950,-1465),(0.993,-1475),(0.898,-1650),(0.942,-1645),(0.985,-1655),(1.028,-1640),(0.912,-1830),(0.955,-1825),
 (0.997,-1835),(0.905,-2010),(0.948,-2005),(0.990,-2015),(1.035,-2000),(0.918,-2190),(0.962,-2185),(1.005,-2195),
 (0.925,-2370),(0.970,-2365),(1.012,-2375),(0.935,-2550),(0.978,-2545),(0.950,-2730),(0.995,-2725),
 (0.920,120),(0.958,140),(0.995,150),(0.880,-120),(0.920,-110),(0.960,-120),(1.000,-130),(1.040,-110),
 (0.905,-290),(0.945,-300),(0.985,-290),(1.025,-300),(0.880,-470),(0.920,-480),(0.960,-470),(1.000,-480),
 (1.040,-470),(0.910,-650),(0.950,-660),(0.990,-650),(1.030,-650),(0.880,-830),(0.920,-840),(0.962,-835),
 (1.002,-845),(0.910,-1010),(0.952,-1020),(0.995,-1010),(0.880,-1190),(0.925,-1200),(0.965,-1195),(1.008,-1205),
 (0.915,-1380),(0.958,-1375),(1.000,-1385),(1.040,-1380),(0.885,-1560),(0.928,-1555),(0.970,-1560),(1.012,-1570),
 (0.920,-1740),(0.962,-1735),(1.005,-1745),(0.890,-1920),(0.932,-1915),(0.975,-1925),(1.018,-1920),(0.925,-2100),
 (0.968,-2095),(1.010,-2105),(0.900,-2280),(0.942,-2275),(0.985,-2285),(0.955,-2460),(0.995,-2455),(0.925,-2630),
 (0.968,-2640),(0.940,-2810),(0.985,-2815)]

b_ellipses = [(0.0575, -759, 0.03125, 249, 105),
              (0.7995, -1555, 0.1245, 2345, 97),
              (0.9585, -1692, 0.1465, 2757, 96.5)]

WTP = 50000

# ---------------- drawing ----------------
W, H = 1161, 1249
fig = plt.figure(figsize=(W / 100, H / 100), dpi=100)

def minus_fmt(v, pos=None):
    s = f"{v:.2f}"
    if s in ("-0.00",):
        s = "0.00"
    return s.replace("-", "\u2212")

def ellipse_xy(cx, cy, rx, ry, phase):
    t = np.linspace(0, 2 * np.pi, 300)
    return cx + rx * np.cos(t), cy + ry * np.cos(t + np.deg2rad(phase))

def make_panel(rect_px, xmax, xstep, ymin, ymax, ystep, pts, colors, ells,
               xlabel, ylabel, letter, letter_y, vline_top, wtp_x, wtp_text, leg_anchor):
    l, t, r, b = rect_px
    ax = fig.add_axes([l / W, 1 - b / H, (r - l) / W, (b - t) / H])
    ax.set_xlim(0, xmax)
    ax.set_ylim(ymin, ymax)
    for sp in ("top", "right"):
        ax.spines[sp].set_visible(False)
    ax.spines["left"].set_position(("outward", 10.8))
    ax.spines["bottom"].set_position(("outward", 10.4))
    for sp in ("left", "bottom"):
        ax.spines[sp].set_linewidth(1.1)
        ax.spines[sp].set_color("#333333")
    ax.spines["left"].set_bounds(ymin, ymax)
    ax.spines["bottom"].set_bounds(0, xmax)
    ax.set_xticks(np.round(np.arange(0, xmax + xstep / 2, xstep), 4))
    ax.set_yticks(np.arange(ymin, ymax + ystep / 2, ystep))
    ax.xaxis.set_major_formatter(plt.FuncFormatter(minus_fmt))
    ax.yaxis.set_major_formatter(plt.FuncFormatter(minus_fmt))
    ax.tick_params(direction="out", length=4.3, width=1.0, color="#333333",
                   labelsize=8.2, pad=2.5, labelcolor="#111111")
    for lab in ax.get_xticklabels() + ax.get_yticklabels():
        lab.set_fontfamily("Liberation Sans")

    # reference lines
    ax.axhline(0, xmin=-0.013, xmax=1, color="#222222", lw=0.9, ls=(0, (4.5, 4.5)),
               clip_on=False, zorder=1)
    ax.plot([0, 0], [ymin, vline_top], color="#222222", lw=0.9, ls=(0, (4.5, 4.5)),
            clip_on=False, zorder=1)
    wx = np.array(wtp_x)
    ax.plot(wx, WTP * wx, color="black", lw=1.7, ls=(0, (2.3, 1.4)), clip_on=False, zorder=6)

    handles = []
    for name, p, c in zip(scenarios, pts, colors):
        xs = [q[0] for q in p]
        ys = [q[1] for q in p]
        h = ax.scatter(xs, ys, s=30, color=c, linewidths=0, zorder=3, label=name)
        handles.append(h)
    for e in ells:
        ex, ey = ellipse_xy(*e)
        ax.plot(ex, ey, color="#008000", lw=1.6, zorder=5)

    # WTP label rotated along the line
    p0 = ax.transData.transform((0, 0))
    p1 = ax.transData.transform((wx[1], WTP * wx[1]))
    ang = np.degrees(np.arctan2(p1[1] - p0[1], p1[0] - p0[0]))
    ax.text(wtp_text[0], wtp_text[1], "WTP=50000", rotation=ang, rotation_mode="anchor",
            ha="center", va="center", fontsize=13.2, family="Open Sans", color="black",
            zorder=7)

    ax.set_xlabel(xlabel, fontsize=8.5, fontweight="bold", family="Open Sans", color="#111111")
    ax.set_ylabel(ylabel, fontsize=8.5, fontweight="bold", family="Open Sans", color="#111111")
    ax.xaxis.set_label_coords(0.5, -49 / (b - t))
    ax.yaxis.set_label_coords((18 - l) / (r - l), 0.5 - 12 / (b - t))
    ax.xaxis.label.set_va("center")
    ax.yaxis.label.set_va("center")

    leg = ax.legend(handles=handles, loc="upper left", bbox_to_anchor=leg_anchor,
                    frameon=False, handlelength=1.0, handletextpad=0.75,
                    labelspacing=0.62, borderpad=0, borderaxespad=0, markerscale=0.9,
                    prop={"family": "Liberation Sans", "size": 10.2})
    for txt in leg.get_texts():
        txt.set_color("#222222")

    fig.text(12 / W, 1 - letter_y / H, letter, fontsize=20, fontweight="bold",
             family="Liberation Sans", va="baseline", ha="left")
    return ax

# panel a
make_panel((112, 77, 1135, 543), 0.22, 0.01, -1200, 100, 100,
           [a_A, a_B, a_C], a_colors, a_ellipses,
           "Incremental Effectiveness (QALY, million)", "Incremental Cost (AU$, million)",
           "a", 28, 0, (-0.0028, 0.0027), (-0.00222, 45.5),
           ((1044 - 112) / 1023, (543 - 7) / 466))

# panel b
make_panel((111, 726, 1135, 1191), 1.2, 0.1, -6000, 2000, 500,
           [b_A, b_B, b_C], b_colors, b_ellipses,
           "Incremental Effectiveness (QALY, 10,000)", "Incremental Cost (AU$, 10,000)",
           "b", 682, 2130, (-0.0165, 0.0445), (-0.0062, 378),
           ((1043 - 111) / 1024, (1191 - 654) / 465))

fig.savefig("out.png", dpi=100)
